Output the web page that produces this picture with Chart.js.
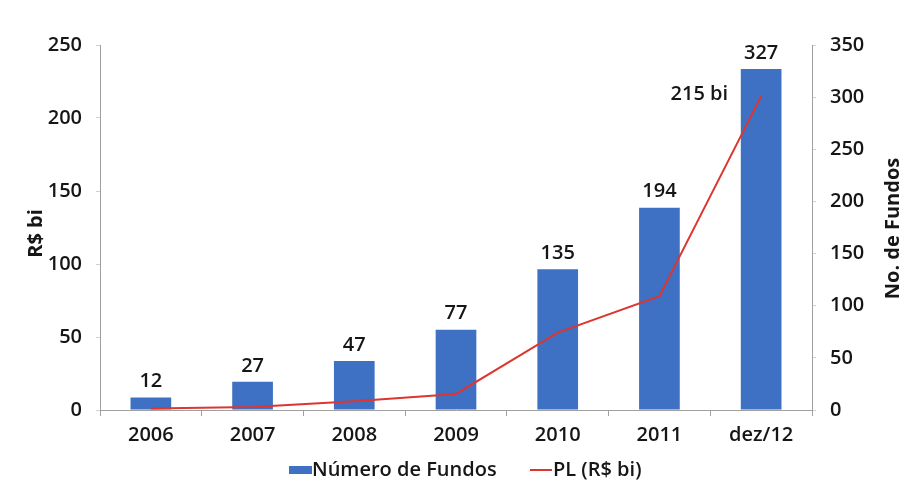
<!DOCTYPE html>
<html>
<head>
<meta charset="utf-8">
<script src="https://cdn.jsdelivr.net/npm/chart.js@4.4.1/dist/chart.umd.min.js"></script>
<style>
  html, body { margin: 0; padding: 0; background: #ffffff; }
  #wrap { width: 902px; height: 483px; }
</style>
</head>
<body>
<div id="wrap"><canvas id="chart" width="902" height="483"></canvas></div>
<script>
// ==========================================
// Data
// ==========================================
const years = ['2006', '2007', '2008', '2009', '2010', '2011', 'dez/12'];
const numeroFundos = [12, 27, 47, 77, 135, 194, 327];
const plBilhoes = [1, 2, 6, 11, 53, 78, 215];
const leftTicks = [0, 50, 100, 150, 200, 250];
const rightTicks = [0, 50, 100, 150, 200, 250, 300, 350];

const barBlue = '#3E71C3';
const lineRed = '#DD3530';
const textColor = '#161616';
const axisGray = '#a0a0a0';
const fontFamily = '"Open Sans", "Noto Sans", sans-serif';
const tickFont = { size: 20, family: fontFamily, weight: '600' };

// bar value labels, "215 bi" label, axis titles and legend
const annotate = {
  id: 'annotate',
  afterDatasetsDraw(chart) {
    const ctx = chart.ctx;
    const area = chart.chartArea;
    ctx.save();
    ctx.fillStyle = textColor;
    ctx.font = '600 20px ' + fontFamily;
    ctx.textAlign = 'center';
    ctx.textBaseline = 'bottom';
    chart.getDatasetMeta(0).data.forEach((bar, i) => {
      ctx.fillText(String(numeroFundos[i]), bar.x, bar.y - 6);
    });

    // last PL point
    const pts = chart.getDatasetMeta(1).data;
    const last = pts[pts.length - 1];
    ctx.textAlign = 'right';
    ctx.textBaseline = 'middle';
    ctx.fillText(plBilhoes[plBilhoes.length - 1] + ' bi', last.x - 33, last.y - 2);

    // axis titles (both read bottom-to-top)
    const midY = (area.top + area.bottom) / 2;
    ctx.font = 'bold 20px ' + fontFamily;
    ctx.textAlign = 'center';
    ctx.save();
    ctx.translate(36, midY + 6);
    ctx.rotate(-Math.PI / 2);
    ctx.fillText('R$ bi', 0, 0);
    ctx.restore();
    ctx.save();
    ctx.translate(893, midY + 1);
    ctx.rotate(-Math.PI / 2);
    ctx.fillText('No. de Fundos', 0, 0);
    ctx.restore();

    // legend
    const ly = 470;
    ctx.font = '600 20px ' + fontFamily;
    ctx.textAlign = 'left';
    ctx.fillStyle = barBlue;
    ctx.fillRect(289, ly - 4, 23, 8);
    ctx.fillStyle = textColor;
    ctx.fillText('Número de Fundos', 312, ly);
    ctx.strokeStyle = lineRed;
    ctx.lineWidth = 2;
    ctx.beginPath();
    ctx.moveTo(530, ly);
    ctx.lineTo(552, ly);
    ctx.stroke();
    ctx.fillText('PL (R$ bi)', 553, ly);
    ctx.restore();
  }
};

new Chart(document.getElementById('chart'), {
  type: 'bar',
  data: {
    labels: years,
    datasets: [
      {
        type: 'bar',
        label: 'Número de Fundos',
        data: numeroFundos,
        yAxisID: 'y1',
        backgroundColor: barBlue,
        categoryPercentage: 1,
        barPercentage: 0.4,
        order: 2
      },
      {
        type: 'line',
        label: 'PL (R$ bi)',
        data: plBilhoes,
        yAxisID: 'y',
        borderColor: lineRed,
        borderWidth: 2,
        pointRadius: 0,
        tension: 0,
        fill: false,
        order: 1
      }
    ]
  },
  options: {
    responsive: false,
    animation: false,
    layout: { padding: { top: 45, bottom: 0, left: 0, right: 0 } },
    plugins: {
      legend: { display: false },
      tooltip: { enabled: false }
    },
    scales: {
      x: {
        offset: true,
        afterFit: (axis) => { axis.height = 73; },
        grid: { display: true, drawOnChartArea: false, offset: true, tickLength: 6, color: axisGray },
        border: { color: axisGray },
        ticks: { color: textColor, font: tickFont, padding: 7 }
      },
      y: {
        position: 'left',
        min: 0,
        max: 250,
        afterBuildTicks: (axis) => { axis.ticks = leftTicks.map(v => ({ value: v })); },
        afterFit: (axis) => { axis.width = 100; },
        grid: { drawOnChartArea: false, tickLength: 4, color: '#d0d0d0' },
        border: { color: axisGray },
        ticks: { color: textColor, font: tickFont, padding: 14 }
      },
      y1: {
        position: 'right',
        min: 0,
        max: 350,
        afterBuildTicks: (axis) => { axis.ticks = rightTicks.map(v => ({ value: v })); },
        afterFit: (axis) => { axis.width = 90; },
        grid: { drawOnChartArea: false, tickLength: 4, color: '#d0d0d0' },
        border: { color: axisGray },
        ticks: { color: textColor, font: tickFont, padding: 14 }
      }
    }
  },
  plugins: [annotate]
});
</script>
</body>
</html>
